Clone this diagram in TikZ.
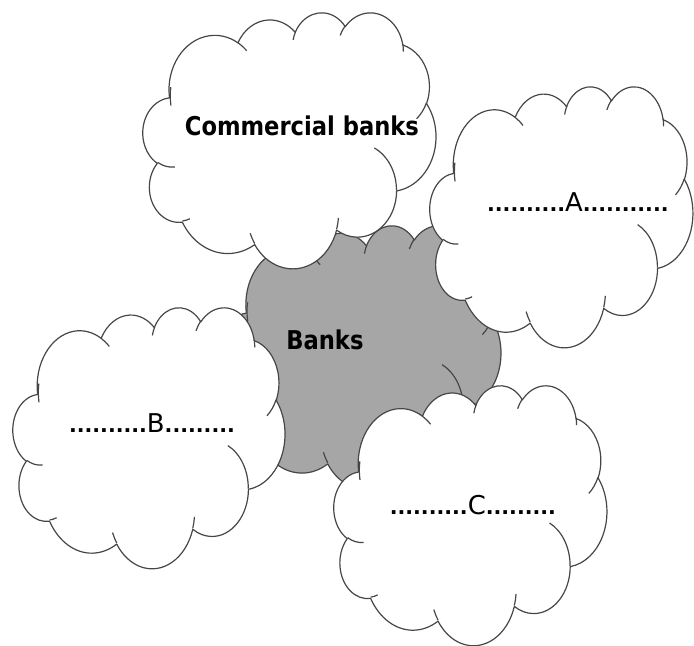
\documentclass[tikz,border=0pt]{standalone}
\usepackage{fontspec}
\setmainfont{DejaVu Sans}
\newfontfamily\titlefont{DejaVu Sans Bold}[FakeStretch=0.875]
\definecolor{bankgray}{RGB}{166,166,166}
\definecolor{edgegray}{RGB}{70,70,70}

% Cloud outline on a 43.2 x 43.2 grid (y grows downwards), built from
% elliptical arcs whose angles are given as seen from the arc centre.
% \cldprep converts such an arc into the parametric start/delta angles
% that TikZ expects.
\newcommand\cldprep[5]{%
  \pgfmathsetmacro\cldtmpS{atan2(#2*sin(#4),#3*cos(#4))}%
  \pgfmathsetmacro\cldtmpE{atan2(#2*sin(#4+#5),#3*cos(#4+#5))}%
  \pgfmathsetmacro\cldtmpD{mod(\cldtmpE-(\cldtmpS)+720,360)}%
  \expandafter\xdef\csname cldS#1\endcsname{\cldtmpS}%
  \expandafter\xdef\csname cldD#1\endcsname{\cldtmpD}%
}
\def\cldarc#1#2#3{arc[start angle=\csname cldS#1\endcsname,
  delta angle=\csname cldD#1\endcsname, x radius=#2, y radius=#3]}

% #1 left, #2 top, #3 width, #4 height (pixels), #5 fill colour
\newcommand\cloudshape[5]{%
  \begin{scope}[shift={(#1*0.025,-#2*0.025)},
                xscale=#3*0.025/43.2, yscale=-#4*0.025/43.2]
    \path[cloudedge, fill=#5] (3.9,14.37)
      \cldarc{1}{6.753}{9.19} \cldarc{2}{5.333}{7.267}
      \cldarc{3}{4.365}{5.945} \cldarc{4}{4.857}{6.595}
      \cldarc{5}{5.333}{7.273} \cldarc{6}{6.775}{9.22}
      \cldarc{7}{5.785}{7.867} \cldarc{8}{6.752}{9.215}
      \cldarc{9}{7.72}{10.543} \cldarc{10}{4.36}{5.918}
      \cldarc{11}{4.345}{5.945} -- cycle;
    \path[cloudedge]
      (4.693,26.177) \cldarc{i1}{4.345}{5.945}
      (6.928,34.899) \cldarc{i2}{4.36}{5.918}
      (16.478,39.09) \cldarc{i3}{6.752}{9.215}
      (28.827,34.751) \cldarc{i4}{6.752}{9.215}
      (34.129,22.954) \cldarc{i5}{5.785}{7.867}
      (41.798,15.354) \cldarc{i6}{5.333}{7.273}
      (38.324,5.426) \cldarc{i7}{4.857}{6.595}
      (29.078,3.952) \cldarc{i8}{4.857}{6.595}
      (22.141,4.72) \cldarc{i9}{4.365}{5.945}
      (14.0,5.192) \cldarc{i10}{6.753}{9.19}
      (4.127,15.789) \cldarc{i11}{6.753}{9.19};
  \end{scope}%
}

% heavy dotted leaders around a letter
\newcommand\leader[1]{{\fontsize{14.6}{18}\selectfont\bfseries #1}}

\begin{document}
\begin{tikzpicture}[
    cloudedge/.style={draw=edgegray, line width=0.85pt, line join=round},
    title/.style={font=\titlefont\fontsize{18.4}{22}\selectfont,
                  inner sep=0pt, anchor=base},
    blank/.style={font=\fontsize{18.4}{22}\selectfont,
                  inner sep=0pt, anchor=base}]
  % outer arcs
  \cldprep{1}{6.753}{9.19}{-190.4875}{123.7805}
  \cldprep{2}{5.333}{7.267}{-144.1024}{89.9452}
  \cldprep{3}{4.365}{5.945}{-145.8079}{99.7230}
  \cldprep{4}{4.857}{6.595}{-130.9861}{117.2417}
  \cldprep{5}{5.333}{7.273}{-78.7089}{109.0269}
  \cldprep{6}{6.775}{9.22}{-46.2673}{130.2690}
  \cldprep{7}{5.785}{7.867}{0.6250}{114.0333}
  \cldprep{8}{6.752}{9.215}{22.4516}{115.1726}
  \cldprep{9}{7.72}{10.543}{66.2426}{75.7110}
  \cldprep{10}{4.36}{5.918}{-274.9421}{146.7356}
  \cldprep{11}{4.345}{5.945}{-246.8285}{152.5189}
  % inner fold marks
  \cldprep{i1}{4.345}{5.945}{86.7420}{26.4295}
  \cldprep{i2}{4.36}{5.918}{73.6105}{11.4475}
  \cldprep{i3}{6.752}{9.215}{137.6242}{14.0811}
  \cldprep{i4}{6.752}{9.215}{6.4533}{15.9984}
  \cldprep{i5}{5.785}{7.867}{-70.2924}{70.9174}
  \cldprep{i6}{5.333}{7.273}{30.3180}{27.7515}
  \cldprep{i7}{4.857}{6.595}{-13.7443}{14.8589}
  \cldprep{i8}{4.857}{6.595}{-149.1815}{18.1954}
  \cldprep{i9}{4.365}{5.945}{-163.4943}{17.6864}
  \cldprep{i10}{6.753}{9.19}{-66.7070}{12.3194}
  \cldprep{i11}{6.753}{9.19}{166.2192}{26.1355}

  \useasboundingbox (0,0) rectangle (17.35,-16.15);

  % central cloud first, the four others lie over it
  \cloudshape{221}{225}{280}{263}{bankgray}
  \cloudshape{143}{12}{293}{256}{white}
  \cloudshape{430}{86}{263}{261}{white}
  \cloudshape{13}{307}{272}{261}{white}
  \cloudshape{334}{385}{273}{260}{white}

  \node[title] (banks) at (325*0.025,-350*0.025) {Banks};
  \node[title] (commercial) at (302*0.025,-136*0.025) {Commercial banks};
  \node[blank] (a) at (578*0.025,-212*0.025)
    {\leader{..........}A\leader{...........}};
  \node[blank] (b) at (152*0.025,-433*0.025)
    {\leader{..........}B\leader{.........}};
  \node[blank] (c) at (473*0.025,-515*0.025)
    {\leader{..........}C\leader{.........}};
\end{tikzpicture}
\end{document}
